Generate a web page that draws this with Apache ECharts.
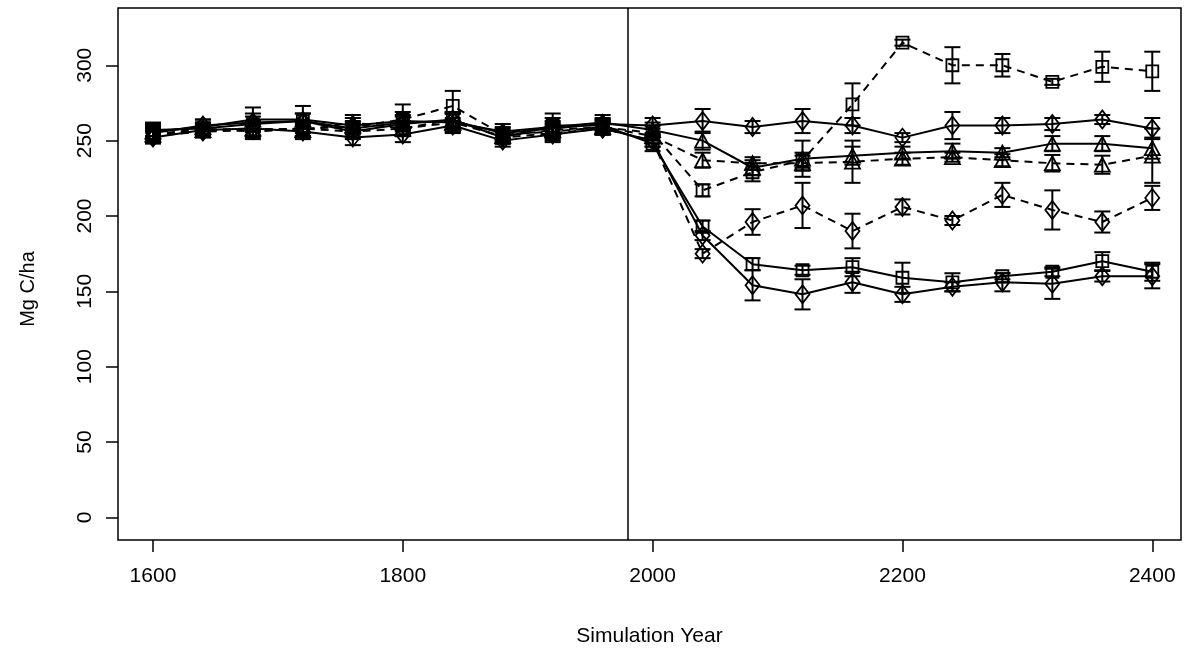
<!DOCTYPE html>
<html><head><meta charset="utf-8">
<script src="https://cdn.jsdelivr.net/npm/echarts@6/dist/echarts.min.js"></script>
<style>html,body{margin:0;padding:0;background:#fff}#c{width:1193px;height:655px}</style>
</head><body><div id="c"></div>
<script>
const years = [1600,1640,1680,1720,1760,1800,1840,1880,1920,1960,2000,2040,2080,2120,2160,2200,2240,2280,2320,2360,2400];
const xTicks = [1600,1800,2000,2200,2400];
const yTicks = [0,50,100,150,200,250,300];
const dividerYear = 1980;

// solid, diamond (upper)
const aMean = [255,260,262,263,258,262,263,255,258,261,260,263,259,263,260,252,260,260,261,264,258];
const aErr  = [5,4,6,5,4,5,5,4,5,4,5,8,4,8,5,3,9,5,4,3,7];
// solid, triangle
const bMean = [256,259,264,264,260,263,262,256,259,262,257,250,232,238,240,242,243,242,248,248,245];
const bErr  = [6,5,8,9,5,6,6,5,6,5,5,6,5,12,6,4,5,3,5,5,7];
// dashed, triangle
const cMean = [254,257,258,257,262,258,262,253,257,259,253,237,235,235,236,238,239,237,235,234,240];
const cErr  = [5,4,5,5,5,5,6,4,5,5,5,5,4,5,14,4,3,4,5.5,6,18];
// dashed, square
const dMean = [254,258,256,258,259,264,273,254,256,259,255,217,229,237,274,315,300,300,289,299,296];
const dErr  = [4,4,5,5,4,10,10,4,5,4,5,4,6,5,14,2,12,7.5,2,10,13];
// dashed, diamond
const eMean = [253,256,257,258,256,258,264,252,255,258,250,175,196,207,190,206,197,214,204,196,212];
const eErr  = [4,4,5,5,4,5,5,4,5,4,4,3,8.5,15,11.5,5,3,8,13,7,8];
// solid, square
const fMean = [257,258,261,263,256,261,264,252,260,260,248,193,168,164,166,159,156,160,163,170,163];
const fErr  = [4,4,5,5,5,5,5,4,8,4,5,4,4,3,6,10,6,2,3,6,6];
// solid, diamond (lower)
const gMean = [252,257,258,256,252,254,260,250,254,258,250,187,154,148,156,148,153,156,155,160,160];
const gErr  = [4,4,5,5,5,5,5,4,5,4,4,3,10,10,7,5,3,6,10,3.5,8];

const seriesDefs = [
  {mean:aMean, err:aErr, symbol:'diamond', dashed:false},
  {mean:bMean, err:bErr, symbol:'triangle', dashed:false},
  {mean:cMean, err:cErr, symbol:'triangle', dashed:true},
  {mean:dMean, err:dErr, symbol:'rect', dashed:true},
  {mean:eMean, err:eErr, symbol:'diamond', dashed:true},
  {mean:fMean, err:fErr, symbol:'rect', dashed:false},
  {mean:gMean, err:gErr, symbol:'diamond', dashed:false}
];
const symSize = {diamond:[14,18], triangle:[15,14], rect:[12,12]};
const FONT = 'Liberation Sans, Arial, sans-serif';

function errRender(params, api){
  const x = api.value(0), lo = api.value(1), hi = api.value(2);
  const p1 = api.coord([x, lo]), p2 = api.coord([x, hi]);
  const w = 8;
  const style = {stroke:'#000', lineWidth:2};
  return {type:'group', children:[
    {type:'line', shape:{x1:p1[0],y1:p1[1],x2:p2[0],y2:p2[1]}, style:style},
    {type:'line', shape:{x1:p1[0]-w,y1:p1[1],x2:p1[0]+w,y2:p1[1]}, style:style},
    {type:'line', shape:{x1:p2[0]-w,y1:p2[1],x2:p2[0]+w,y2:p2[1]}, style:style}
  ]};
}

const series = [];
seriesDefs.forEach(function(s, i){
  series.push({
    type:'line', name:'s'+i,
    data: years.map(function(y,k){return [y, s.mean[k]];}),
    symbol: s.symbol, symbolSize: symSize[s.symbol], showSymbol:true,
    lineStyle:{color:'#000', width:2, type: s.dashed ? [8,6] : 'solid'},
    itemStyle:{color:'rgba(255,255,255,0)', borderColor:'#000', borderWidth:1.8},
    animation:false, z:2
  });
  series.push({
    type:'custom', name:'e'+i,
    data: years.map(function(y,k){return [y, s.mean[k]-s.err[k], s.mean[k]+s.err[k]];}),
    renderItem: errRender, encode:{x:0, y:[1,2]}, animation:false, z:3
  });
});
series[0].markLine = {
  silent:true, symbol:['none','none'], animation:false,
  label:{show:false},
  lineStyle:{color:'#000', width:1.5, type:'solid'},
  data:[{xAxis: dividerYear}]
};

const chart = echarts.init(document.getElementById('c'), null, {renderer:'canvas'});
chart.setOption({
  backgroundColor:'#fff',
  animation:false,
  grid:{left:118, right:12, top:8, bottom:115, show:true, borderColor:'#000', borderWidth:1.5, containLabel:false, outerBoundsMode:'none'},
  xAxis:{
    type:'value', min:1572, max:2423,
    axisLine:{show:false, onZero:false}, splitLine:{show:false},
    axisTick:{show:true, customValues:xTicks, length:12, lineStyle:{color:'#000', width:1.5}},
    axisLabel:{customValues:xTicks, fontSize:21, color:'#000', margin:26, fontFamily:FONT,
      formatter:function(v){return String(v);}},
    name:'Simulation Year', nameLocation:'middle', nameGap:86,
    nameTextStyle:{fontSize:21, color:'#000', fontFamily:FONT}
  },
  yAxis:{
    type:'value', min:-15, max:338,
    axisLine:{show:false, onZero:false}, splitLine:{show:false},
    axisTick:{show:true, customValues:yTicks, length:12, lineStyle:{color:'#000', width:1.5}},
    axisLabel:{customValues:yTicks, fontSize:21, color:'#000', margin:22, rotate:90, fontFamily:FONT,
      formatter:function(v){return String(v);}}
  },
  graphic:[{
    type:'text', x:28, y:289, rotation:Math.PI/2,
    style:{text:'Mg C/ha', fontSize:20, fill:'#000', font:'20px ' + FONT, align:'center', verticalAlign:'middle'}
  }],
  series: series
});
</script></body></html>
